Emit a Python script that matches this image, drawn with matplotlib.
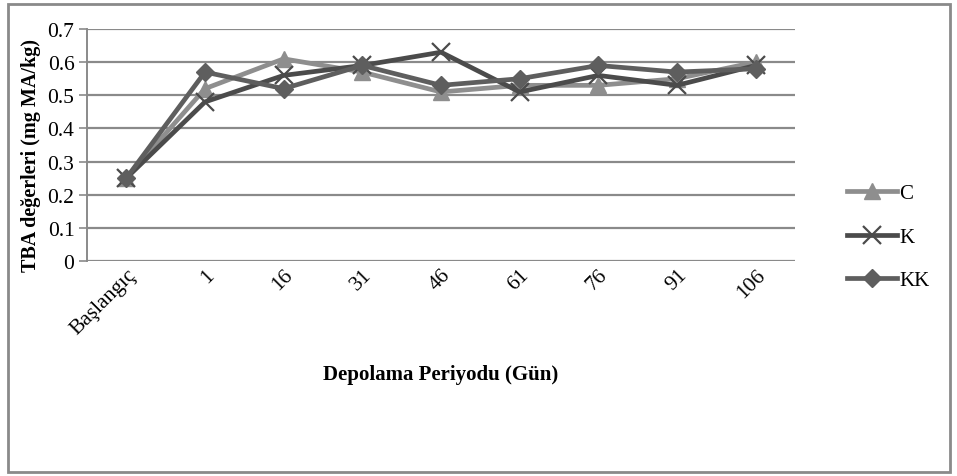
import matplotlib.pyplot as plt
from matplotlib.patches import Rectangle

# --- Datos ---
periyot = ['Başlangıç', '1', '16', '31', '46', '61', '76', '91', '106']
tba_c = [0.25, 0.52, 0.61, 0.57, 0.51, 0.53, 0.53, 0.55, 0.60]
tba_k = [0.25, 0.48, 0.56, 0.59, 0.63, 0.51, 0.56, 0.53, 0.59]
tba_kk = [0.25, 0.57, 0.52, 0.59, 0.53, 0.55, 0.59, 0.57, 0.58]
y_ticks = [0, 0.1, 0.2, 0.3, 0.4, 0.5, 0.6, 0.7]
y_tick_labels = ['0', '0.1', '0.2', '0.3', '0.4', '0.5', '0.6', '0.7']

plt.rcParams['font.family'] = ['Liberation Serif', 'DejaVu Serif']

fig = plt.figure(figsize=(9.57, 4.77), dpi=100)
fig.patches.append(Rectangle((8 / 957, 4 / 477), 942 / 957, 468 / 477,
                             transform=fig.transFigure, fill=False,
                             edgecolor='#8a8a8a', linewidth=2))

ax = fig.add_axes([87 / 957, 1 - 262 / 477, 708 / 957, 232 / 477])

x = list(range(len(periyot)))
ax.plot(x, tba_c, color='#8e8e8e', lw=3.4, marker='^', ms=11,
        mec='#8e8e8e', label='C', zorder=3)
ax.plot(x, tba_k, color='#4b4b4b', lw=3.4, marker='x', ms=13, mew=1.6,
        label='K', zorder=4)
ax.plot(x, tba_kk, color='#5e5e5e', lw=3.4, marker='D', ms=9,
        mec='#5e5e5e', label='KK', zorder=5)

ax.set_xlim(-0.5, len(periyot) - 0.5)
ax.set_ylim(0, 0.7)
ax.set_yticks(y_ticks)
ax.set_yticklabels(y_tick_labels, fontsize=15.5)
ax.set_xticks(x)
ax.set_xticklabels(periyot, fontsize=15.5, rotation=45, ha='right',
                   rotation_mode='anchor')
ax.tick_params(axis='x', length=0, pad=3)
ax.tick_params(axis='y', length=6, width=1.2, color='#8a8a8a', pad=3)

ax.grid(axis='y', color='#8a8a8a', linewidth=1.6)
ax.set_axisbelow(True)
for side in ['top', 'right', 'bottom']:
    ax.spines[side].set_visible(False)
ax.spines['left'].set_color('#8a8a8a')
ax.spines['left'].set_linewidth(1.4)

fig.text(441 / 957, 1 - 375 / 477, 'Depolama Periyodu (Gün)',
         fontsize=15, fontweight='bold', ha='center', va='center')
fig.text(31 / 957, 1 - 155 / 477, 'TBA değerleri (mg MA/kg)',
         fontsize=14.5, fontweight='bold', ha='center', va='center', rotation=90)

ax.legend(loc='center left', bbox_to_anchor=(847 / 957, 1 - 238 / 477),
          bbox_transform=fig.transFigure, frameon=False, fontsize=15,
          handlelength=2.4, handletextpad=0.1, labelspacing=1.15,
          borderaxespad=0, borderpad=0)

plt.savefig('out.png', dpi=100)
